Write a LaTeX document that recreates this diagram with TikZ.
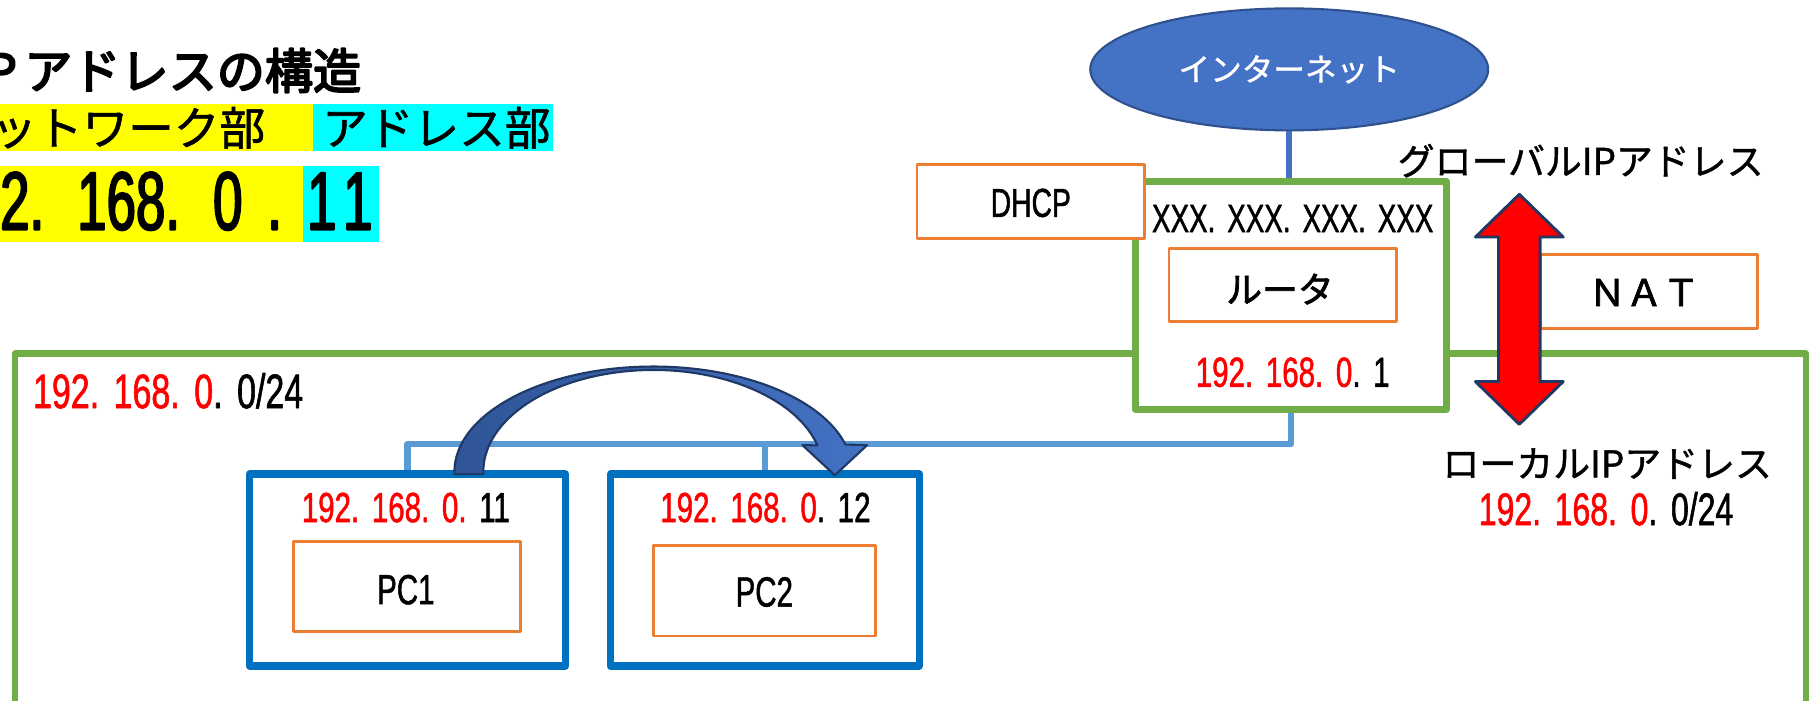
\documentclass[tikz,border=0pt]{standalone}
\usepackage{fontspec}
\setmainfont{Noto Sans CJK JP}
\newfontfamily\jpheavy[FakeBold=4]{Noto Sans CJK JP}
\newfontfamily\jpbold[FakeBold=2]{Noto Sans CJK JP}
\newfontfamily\jpmid[FakeBold=1.2]{Noto Sans CJK JP}
\newfontfamily\numfont[FakeStretch=0.7, FakeBold=1.2]{Liberation Sans}
\newfontfamily\bignum[FakeStretch=0.64, FakeBold=2.2]{Liberation Sans}
\usetikzlibrary{shapes.geometric,fit,positioning}
\definecolor{lgreen}{HTML}{70AD47}
\definecolor{lorange}{HTML}{ED7D31}
\definecolor{pcblue}{HTML}{0070C0}
\definecolor{lanblue}{HTML}{5B9BD5}
\definecolor{netblue}{HTML}{4472C4}
\definecolor{netedge}{HTML}{2F528F}
\definecolor{navy}{HTML}{203864}
\definecolor{arrowdark}{HTML}{2F5597}
\definecolor{hostcyan}{HTML}{00FFFF}
\definecolor{netyellow}{HTML}{FFFF00}
\newcommand\fsz[1]{\fontsize{#1}{#1}\selectfont}
\newcommand\ipdot{.\kern.3em}
\newcommand\bigdot{.\kern.4em}
\newcommand\redpart[1]{\textcolor{red}{#1}}
\begin{document}
\begin{tikzpicture}[x=0.011563cm, y=-0.011563cm, line join=round, every node/.style={inner sep=0pt},
	lanbox/.style={draw=lgreen, line width=1.9pt, fill=white},
	obox/.style={draw=lorange, line width=0.8pt, fill=white},
	pcbox/.style={draw=pcblue, line width=2.1pt, fill=white},
	num/.style={font=\numfont\fsz{#1}}, num/.default=12]
				\useasboundingbox (0,0) rectangle (1568,606);
				\clip (0,0) rectangle (1568,606);
				\node[anchor=east, font=\jpheavy\fsz{13.7}] (title) at (313,61) {ＩＰアドレスの構造};
				\fill[netyellow] (-10,90) rectangle (271,131);
				\fill[hostcyan] (271,90) rectangle (478,131);
				\node[anchor=east, font=\jpmid\fsz{13}] (netpart) at (230,110.5) {ネットワーク部};
				\node[anchor=west, font=\jpmid\fsz{13}] (hostpart) at (278,110.5) {アドレス部};
				\fill[netyellow] (-10,144) rectangle (262,209);
				\fill[hostcyan] (262,144) rectangle (328,209);
				\node[anchor=east, font=\bignum\fsz{23.5}] (netnum) at (244.5,174) {192\bigdot 168\bigdot 0\kern.3em.};
				\node[anchor=west, font=\bignum\fsz{23.5}] (hostnum) at (265,174) {1\kern.08em1};
				\node[fit={(13,306) (1562,680)}, lanbox] (lan) {};
				\node[anchor=west, num=13.8] (lannet) at (28,338) {\redpart{192\ipdot 168\ipdot 0}\ipdot 0/24};
				\node[ellipse, fill=netblue, draw=netedge, line width=0.6pt, minimum width=3.98cm, minimum height=1.22cm] (inet) at (1115,60) {};
				\node[text=white, font=\jpmid\fsz{9}] (inetlabel) at (inet.center) {インターネット};
				\node[fit={(982,157) (1251,354)}, lanbox] (router) {};
				\draw[netblue, line width=1.6pt] (inet.south) -- (inet.south |- router.north);
				\node[fit={(793,142) (990,206)}, obox] (dhcp) {};
				\node[num=11.5] (dhcplabel) at (891.5,175.5) {DHCP};
				\node[num=11.3] (wanip) at (1118,189) {XXX\ipdot XXX\ipdot XXX\ipdot XXX};
				\node[fit={(1011,215) (1208,278)}, obox] (rt) {};
				\node[font=\jpbold\fsz{10.2}] (rtlabel) at (1107,250) {ルータ};
				\node[num] (gwip) at (1118,322) {\redpart{192\ipdot 168\ipdot 0}\ipdot 1};
				\node[font=\jpmid\fsz{10.5}] (glob) at (1367,139) {グローバルIPアドレス};
				\node[fit={(1332,220) (1520,284)}, obox] (nat) {};
				\node[font=\jpbold\fsz{10.5}] (natlabel) at (1422,253) {ＮＡＴ};
				\draw[navy, fill=red, line width=0.8pt] (1314,168) -- (1352,205) -- (1332,205) -- (1332,330) -- (1352,330) -- (1314,367) -- (1276,330) -- (1296,330) -- (1296,205) -- (1276,205) -- cycle;
				\node[font=\jpmid\fsz{10.5}] (loc) at (1390,401) {ローカルIPアドレス};
				\node[num=13] (locnet) at (1389,440) {\redpart{192\ipdot 168\ipdot 0}\ipdot 0/24};
				\node[fit={(216,410) (489,576)}, pcbox] (pc1) {};
				\node[fit={(528,410) (795,576)}, pcbox] (pc2) {};
				\node[num] (ip1) at (351,439) {\redpart{192\ipdot 168\ipdot 0\ipdot}11};
				\node[num] (ip2) at (662,439) {\redpart{192\ipdot 168\ipdot 0}\ipdot 12};
				\node[fit={(254,468) (450,546)}, obox] (pcbox1) {};
				\node[num] (name1) at (351,510) {PC1};
				\node[fit={(565,472) (757,550)}, obox] (pcbox2) {};
				\node[num] (name2) at (661,512) {PC2};
				\coordinate (bus) at (0,384);
				\draw[lanblue, line width=1.9pt] (router.south) -- (router.south |- bus) -| (pc1.north);
				\draw[lanblue, line width=1.9pt] (pc2.north) -- (pc2.north |- bus);
				\draw[navy, line width=0.6pt, left color=arrowdark, right color=netblue] (393,410) -- (393,408) arc[start angle=180, end angle=345, x radius=172, y radius=91] -- (750,385) -- (722,411) -- (694,385) -- (707,385.2) arc[start angle=345, end angle=180, x radius=147, y radius=88] -- (418,410) -- cycle;
			\end{tikzpicture}
\end{document}
